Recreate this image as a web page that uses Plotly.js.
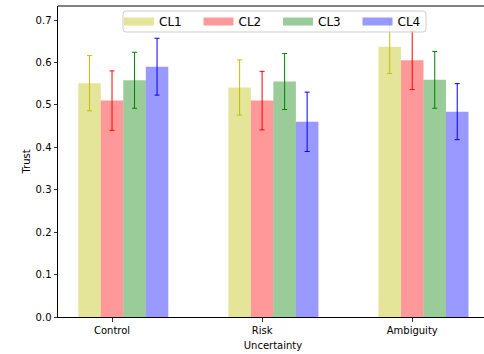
<!DOCTYPE html>
<html>
<head>
<meta charset="utf-8">
<script src="https://cdn.plot.ly/plotly-3.0.1.min.js"></script>
<style>
html,body{margin:0;padding:0;overflow:hidden;background:#fff;}
#chart{width:490px;height:354px;}
</style>
</head>
<body>
<div id="chart"></div>
<script>
const categories = ["Control", "Risk", "Ambiguity"];
const seriesNames = ["CL1", "CL2", "CL3", "CL4"];
const cl1 = [0.551, 0.541, 0.637];
const cl2 = [0.510, 0.510, 0.605];
const cl3 = [0.558, 0.555, 0.559];
const cl4 = [0.590, 0.460, 0.484];
const cl1Err = [0.065, 0.065, 0.063];
const cl2Err = [0.070, 0.069, 0.069];
const cl3Err = [0.066, 0.066, 0.067];
const cl4Err = [0.067, 0.070, 0.066];
const yTicks = [0.0, 0.1, 0.2, 0.3, 0.4, 0.5, 0.6, 0.7];

const values = [cl1, cl2, cl3, cl4];
const errs = [cl1Err, cl2Err, cl3Err, cl4Err];
const fillColors = ["rgba(191,191,0,0.4)", "rgba(255,0,0,0.4)", "rgba(0,128,0,0.4)", "rgba(0,0,255,0.4)"];
const errColors = ["#bfbf00", "#ff0000", "#008000", "#0000ff"];
const barW = 0.15;
const idx = categories.map((c, i) => i);

const traces = [];
values.forEach((v, s) => {
  traces.push({
    type: "bar",
    x: idx.map(i => i + s * barW),
    y: v,
    width: barW,
    marker: {color: fillColors[s], line: {width: 0}},
    error_y: {type: "data", array: errs[s], visible: true, color: errColors[s], thickness: 1, width: 2.5},
    showlegend: false,
    hoverinfo: "skip"
  });
});
// legend entries, one legend per entry so that each can be placed like matplotlib's 4-column legend
const legendName = s => s === 0 ? "legend" : "legend" + (s + 1);
seriesNames.forEach((n, s) => {
  traces.push({
    type: "scatter", mode: "lines", x: [null], y: [null], name: n,
    line: {color: fillColors[s], width: 8},
    legend: legendName(s),
    showlegend: true, hoverinfo: "skip"
  });
});

// legend frame (semi-transparent, drawn above the bars like matplotlib's)
const lx0 = 0.1512, lx1 = 0.8558, ly0 = 0.9164, ly1 = 0.9839, rx = 0.007, ry = 0.0096;
const framePath = `M ${lx0+rx},${ly0} L ${lx1-rx},${ly0} Q ${lx1},${ly0} ${lx1},${ly0+ry} L ${lx1},${ly1-ry} Q ${lx1},${ly1} ${lx1-rx},${ly1} L ${lx0+rx},${ly1} Q ${lx0},${ly1} ${lx0},${ly1-ry} L ${lx0},${ly0+ry} Q ${lx0},${ly0} ${lx0+rx},${ly0} Z`;

const layout = {
  width: 490, height: 354,
  margin: {l: 58, r: 2, t: 6, b: 37},
  paper_bgcolor: "#fff", plot_bgcolor: "#fff",
  barmode: "overlay",
  font: {family: "DejaVu Sans", size: 10, color: "#000"},
  xaxis: {
    range: [-0.21, 2.655],
    tickvals: idx.map(i => i + barW),
    ticktext: categories,
    showgrid: false, zeroline: false,
    showline: true, linecolor: "#000", linewidth: 1, mirror: false,
    ticks: "outside", ticklen: 3.5, tickwidth: 0.8, tickcolor: "#000",
    tickfont: {size: 10, color: "#000"},
    title: {text: "Uncertainty", font: {size: 10, color: "#000"}, standoff: 7}
  },
  yaxis: {
    range: [0, 0.733],
    tickvals: yTicks,
    tickformat: ".1f",
    showgrid: false, zeroline: false,
    showline: true, linecolor: "#000", linewidth: 1, mirror: true,
    ticks: "outside", ticklen: 3.5, tickwidth: 0.8, tickcolor: "#000",
    tickfont: {size: 10, color: "#000"},
    title: {text: "Trust", font: {size: 10, color: "#000"}, standoff: 3}
  },
  shapes: [{
    type: "line", xref: "paper", yref: "paper", layer: "above",
    x0: 0, x1: 1, y0: 1, y1: 1,
    line: {color: "#808080", width: 1.8}
  }, {
    type: "path", xref: "paper", yref: "paper", layer: "above",
    path: framePath,
    fillcolor: "rgba(255,255,255,0.8)",
    line: {color: "#cccccc", width: 1}
  }]
};
seriesNames.forEach((n, s) => {
  layout[legendName(s)] = {
    orientation: "h",
    x: 0.1419 + 0.18488 * s, xanchor: "left",
    y: 0.950, yanchor: "middle",
    bgcolor: "rgba(0,0,0,0)",
    borderwidth: 0,
    font: {size: 12, color: "#000"},
    itemwidth: 30
  };
});

Plotly.newPlot("chart", traces, layout, {displayModeBar: false, staticPlot: true});
</script>
</body>
</html>
